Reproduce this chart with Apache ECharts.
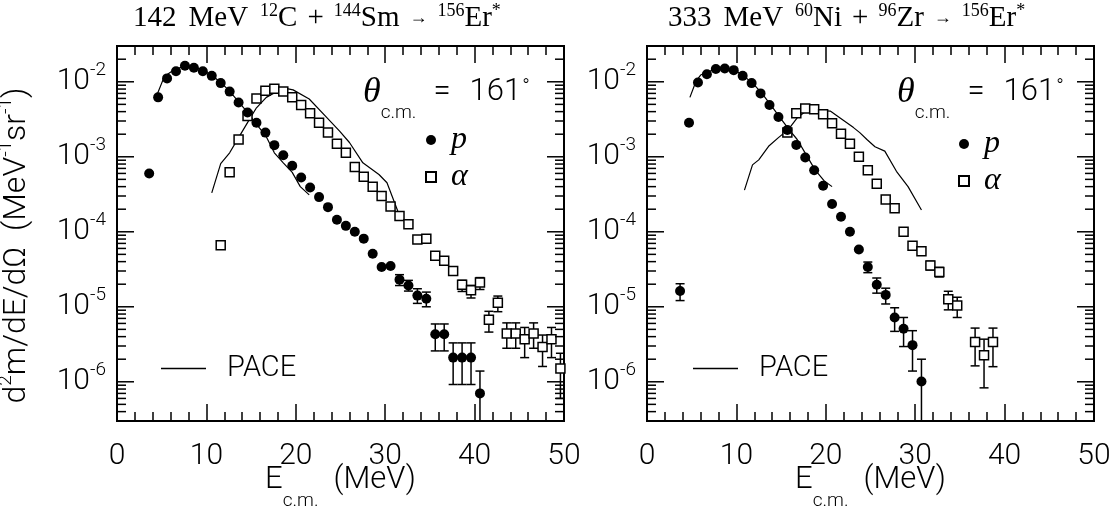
<!DOCTYPE html>
<html><head><meta charset="utf-8">
<script src="https://cdn.jsdelivr.net/npm/echarts@6/dist/echarts.min.js"></script>
<style>html,body{margin:0;padding:0;background:#fff}#c{width:1116px;height:512px}</style>
</head><body><div id="c"></div>
<script>
// ---------- data ----------
const xTickLabels = [0, 10, 20, 30, 40, 50];
const yDecades = [-7, -6, -5, -4, -3, -2];
const yMantissas = [1, 2, 3, 4, 5, 6, 7, 8, 9];

// left panel: 142 MeV 12C + 144Sm
const leftP_E = [3.6,4.6,5.6,6.6,7.6,8.6,9.6,10.6,11.6,12.6,13.6,14.6,15.6,16.6,17.6,18.6,19.6,20.6,21.6,22.6,23.6,24.6,25.6,26.6,27.6,28.6,29.6,30.6,31.6,32.6,33.6,34.6,35.6,36.6,37.6,38.6,39.6,40.6];
const leftP_V = [6.0e-4,6.2e-3,1.11e-2,1.38e-2,1.64e-2,1.54e-2,1.38e-2,1.2e-2,9.6e-3,7.4e-3,5.3e-3,3.9e-3,2.85e-3,2.1e-3,1.43e-3,1.05e-3,7.6e-4,5.3e-4,3.9e-4,2.9e-4,2.13e-4,1.45e-4,1.2e-4,1.0e-4,8.1e-5,5.1e-5,3.4e-5,3.5e-5,2.3e-5,1.92e-5,1.41e-5,1.28e-5,4.3e-6,4.3e-6,2.1e-6,2.1e-6,2.1e-6,7.0e-7];
const leftP_err = [[31.6,1.92e-5,2.68e-5],[32.6,1.62e-5,2.25e-5],[33.6,1.11e-5,1.74e-5],[34.6,1.0e-5,1.57e-5],[35.6,2.58e-6,5.9e-6],[36.6,2.58e-6,5.9e-6],[37.6,9.2e-7,3.3e-6],[38.6,9.2e-7,3.3e-6],[39.6,9.2e-7,3.3e-6],[40.6,1e-8,1.39e-6]];

const leftA_E = [11.6,12.6,13.6,14.6,15.6,16.6,17.6,18.6,19.6,20.6,21.6,22.6,23.6,24.6,25.6,26.6,27.6,28.6,29.6,30.6,31.6,32.6,33.6,34.6,35.6,36.6,37.6,38.6,39.6,40.6,41.6,42.6,43.6,44.6,45.6,46.6,47.6,48.6,49.6];
const leftA_V = [6.6e-5,6.2e-4,1.7e-3,3.5e-3,6.0e-3,7.6e-3,8.1e-3,7.4e-3,6.2e-3,4.9e-3,3.8e-3,2.85e-3,2.1e-3,1.49e-3,1.13e-3,7.3e-4,5.4e-4,4.0e-4,3.0e-4,2.17e-4,1.62e-4,1.26e-4,7.9e-5,8.1e-5,4.8e-5,4.1e-5,3.0e-5,1.97e-5,1.66e-5,2.1e-5,6.7e-6,1.13e-5,4.4e-6,4.4e-6,3.7e-6,4.4e-6,2.9e-6,3.7e-6,1.5e-6];
const leftA_err = [[38.6,1.6e-5,2.25e-5],[39.6,1.31e-5,1.93e-5],[40.6,1.7e-5,2.45e-5],[41.6,4.6e-6,8.7e-6],[42.6,8.6e-6,1.39e-5],[43.6,2.8e-6,6.1e-6],[44.6,2.8e-6,6.1e-6],[45.6,2.1e-6,5.3e-6],[46.6,2.8e-6,6.1e-6],[47.6,1.6e-6,4.2e-6],[48.6,2.1e-6,5.3e-6],[49.6,6e-7,2.4e-6]];

const leftPacePE = [4.5,5.3,6.3,7.5,8.6,9.6,10.6,11.6,12.6,13.6,14.6,15.6,16.6,17.6,18.6,19.6,20.5,21.5];
const leftPacePV = [6.8e-3,1.18e-2,1.42e-2,1.62e-2,1.6e-2,1.42e-2,1.22e-2,9.8e-3,7.5e-3,5.4e-3,3.9e-3,2.7e-3,1.95e-3,1.13e-3,8.3e-4,6.2e-4,4.0e-4,3.1e-4];
const leftPaceAE = [10.6,11.6,12.6,13.6,14.6,15.6,16.7,17.8,19.0,19.7,21.5,23.5,24.9,26.0,27.5,29.3,30.2,31.5];
const leftPaceAV = [3.3e-4,8.1e-4,1.13e-3,1.8e-3,2.85e-3,4.5e-3,6.2e-3,7.3e-3,8.1e-3,7.8e-3,5.9e-3,3.3e-3,2.2e-3,1.55e-3,8.3e-4,5.8e-4,4.5e-4,1.77e-4];

// right panel: 333 MeV 60Ni + 96Zr
const rightP_E = [3.7,4.7,5.7,6.7,7.7,8.7,9.7,10.7,11.7,12.7,13.7,14.7,15.7,16.7,17.7,18.7,19.7,20.7,21.7,22.7,23.7,24.7,25.7,26.7,27.7,28.7,29.7,30.7];
const rightP_V = [1.62e-5,2.85e-3,9.8e-3,1.26e-2,1.48e-2,1.5e-2,1.43e-2,1.2e-2,9.6e-3,7.0e-3,4.9e-3,3.4e-3,2.27e-3,1.44e-3,9.8e-4,6.6e-4,4.1e-4,2.35e-4,1.59e-4,1.0e-4,5.8e-5,3.4e-5,1.97e-5,1.44e-5,7.2e-6,5.1e-6,3.08e-6,1.01e-6];
const rightP_err = [[3.7,1.21e-5,2.03e-5],[24.7,2.85e-5,3.95e-5],[25.7,1.52e-5,2.42e-5],[26.7,1.09e-5,1.77e-5],[27.7,4.7e-6,9.7e-6],[28.7,2.95e-6,7.2e-6],[29.7,1.39e-6,4.8e-6],[30.7,1e-8,2.0e-6]];

const rightA_E = [15.7,16.7,17.7,18.7,19.7,20.7,21.7,22.7,23.7,24.7,25.7,26.7,27.7,28.7,29.7,30.7,31.7,32.7,33.7,34.7,36.7,37.7,38.7];
const rightA_V = [2.1e-3,3.8e-3,4.4e-3,4.3e-3,3.7e-3,2.8e-3,2.03e-3,1.49e-3,1.0e-3,6.6e-4,4.36e-4,2.7e-4,2.06e-4,1.0e-4,6.5e-5,5.5e-5,3.55e-5,2.9e-5,1.26e-5,1.04e-5,3.4e-6,2.26e-6,3.4e-6];
const rightA_err = [[31.7,3.1e-5,4.05e-5],[32.7,2.5e-5,3.35e-5],[33.7,9.1e-6,1.61e-5],[34.7,7.2e-6,1.34e-5],[36.7,1.63e-6,5.2e-6],[37.7,8.3e-7,3.7e-6],[38.7,1.59e-6,5.2e-6]];

const rightPacePE = [4.8,5.5,6.0,6.7,7.9,9.8,10.8,11.9,12.9,13.9,14.9,15.9,16.8,17.8,18.8,19.8,20.7];
const rightPacePV = [6.2e-3,1.03e-2,1.23e-2,1.35e-2,1.5e-2,1.45e-2,1.2e-2,9.4e-3,6.9e-3,4.8e-3,3.3e-3,2.3e-3,1.7e-3,1.07e-3,6.7e-4,4.8e-4,4.0e-4];
const rightPaceAE = [10.9,11.8,12.5,13.6,14.7,15.8,16.8,17.8,19.0,20.5,21.6,23.1,23.8,24.6,25.5,26.6,27.9,29.2,30.7];
const rightPaceAV = [3.6e-4,7.8e-4,9.1e-4,1.38e-3,1.8e-3,2.3e-3,3.3e-3,4.07e-3,4.2e-3,4.07e-3,3.3e-3,2.45e-3,2.1e-3,1.7e-3,1.36e-3,1.19e-3,6.4e-4,4.0e-4,1.95e-4];

// ---------- build ----------
const SANS = 'Roboto';
const SERIF = 'Liberation Serif';
const Y_MIN = 3e-7, Y_MAX = 3e-2;
const zip = (a, b) => a.map((v, i) => [v, b[i]]);

const yTicks = [];
yDecades.forEach(e => yMantissas.forEach(m => {
  const v = m * Math.pow(10, e);
  if (v >= Y_MIN * 0.999 && v <= Y_MAX * 1.001) yTicks.push([0, v, m === 1 ? 1 : 0]);
}));

function tickRender(params, api) {
  const v = api.value(1), major = api.value(2);
  const pL = api.coord([0, v]), pR = api.coord([50, v]);
  const len = major ? 17 : 9;
  return {type: 'group', children: [
    {type: 'line', shape: {x1: pL[0], y1: pL[1], x2: pL[0] + len, y2: pL[1]}, style: {stroke: '#000', lineWidth: 1.5}},
    {type: 'line', shape: {x1: pR[0], y1: pR[1], x2: pR[0] - len, y2: pR[1]}, style: {stroke: '#000', lineWidth: 1.5}}
  ]};
}
function errRender(params, api) {
  const x = api.value(0), lo = api.value(1), hi = api.value(2);
  const a = api.coord([x, lo]), b = api.coord([x, hi]);
  const c = 4.5;
  return {type: 'group', children: [
    {type: 'line', shape: {x1: a[0], y1: a[1], x2: b[0], y2: b[1]}, style: {stroke: '#000', lineWidth: 1.5}},
    {type: 'line', shape: {x1: b[0] - c, y1: b[1], x2: b[0] + c, y2: b[1]}, style: {stroke: '#000', lineWidth: 1.5}},
    {type: 'line', shape: {x1: a[0] - c, y1: a[1], x2: a[0] + c, y2: a[1]}, style: {stroke: '#000', lineWidth: 1.5}}
  ]};
}

const grids = [
  {left: 117, top: 46, width: 447, height: 375, show: true, borderColor: '#000', borderWidth: 2, backgroundColor: 'transparent', outerBoundsMode: 'none', containLabel: false},
  {left: 647, top: 46, width: 447, height: 375, show: true, borderColor: '#000', borderWidth: 2, backgroundColor: 'transparent', outerBoundsMode: 'none', containLabel: false}
];

function xAx(gi, pos, withLabels, withName) {
  return {
    type: 'value', gridIndex: gi, position: pos, min: xTickLabels[0], max: xTickLabels[xTickLabels.length - 1], interval: 10,
    axisLine: {show: false}, splitLine: {show: false},
    axisTick: {show: true, inside: true, length: 17, lineStyle: {color: '#000', width: 1.5}},
    minorTick: {show: true, splitNumber: 5, length: 9, lineStyle: {color: '#000', width: 1.5}},
    axisLabel: {show: withLabels, margin: 20, color: '#000', fontFamily: SANS, fontWeight: 300, fontSize: 30},
    name: withName ? '{e|E}{sub|c.m.}{e|  (MeV)}' : '',
    nameLocation: 'middle', nameGap: 28, nameMoveOverlap: false,
    nameTextStyle: {color: '#000', rich: {
      e: {fontFamily: SANS, fontWeight: 300, fontSize: 31, lineHeight: 62, color: '#000'},
      sub: {fontFamily: SANS, fontWeight: 300, fontSize: 19, lineHeight: 19, verticalAlign: 'bottom', color: '#000'}
    }}
  };
}
function yAx(gi, withName) {
  return {
    type: 'log', logBase: 10, gridIndex: gi, min: Y_MIN, max: Y_MAX,
    axisLine: {show: false}, axisTick: {show: false}, splitLine: {show: false},
    axisLabel: {
      margin: 11,
      formatter: v => { const e = Math.log10(v), r = Math.round(e); return Math.abs(e - r) > 1e-6 ? '' : '{b|10}{s|' + r + '}'; },
      rich: {
        b: {fontFamily: SANS, fontWeight: 300, fontSize: 30, lineHeight: 42, color: '#000'},
        s: {fontFamily: SANS, fontWeight: 300, fontSize: 19, lineHeight: 19, verticalAlign: 'top', color: '#000'}
      }
    },
    name: withName ? '{b|d}{s|2}{b|m/dE/dΩ  (MeV}{s|-1}{b|sr}{s|-1}{b|)}' : '',
    nameLocation: 'middle', nameRotate: 90, nameGap: 80, nameMoveOverlap: false,
    nameTextStyle: {color: '#000', padding: [0, 24, 0, 0], rich: {
      b: {fontFamily: SANS, fontWeight: 300, fontSize: 32, lineHeight: 40, color: '#000'},
      s: {fontFamily: SANS, fontWeight: 300, fontSize: 19, lineHeight: 19, verticalAlign: 'top', color: '#000'}
    }}
  };
}

function panelSeries(xi, yi, pE, pV, pErr, aE, aV, aErr, ppE, ppV, paE, paV) {
  return [
    {type: 'custom', xAxisIndex: xi, yAxisIndex: yi, data: yTicks, renderItem: tickRender, clip: false, silent: true, z: 5},
    {name: 'PACE', type: 'line', xAxisIndex: xi, yAxisIndex: yi, data: zip(ppE, ppV), symbol: 'none', lineStyle: {color: '#000', width: 1.2}, itemStyle: {color: '#000'}, z: 2},
    {name: 'PACE', type: 'line', xAxisIndex: xi, yAxisIndex: yi, data: zip(paE, paV), symbol: 'none', lineStyle: {color: '#000', width: 1.2}, itemStyle: {color: '#000'}, z: 2},
    {type: 'custom', xAxisIndex: xi, yAxisIndex: yi, data: aErr, encode: {x: 0, y: [1, 2]}, renderItem: errRender, clip: true, z: 3},
    {type: 'custom', xAxisIndex: xi, yAxisIndex: yi, data: pErr, encode: {x: 0, y: [1, 2]}, renderItem: errRender, clip: true, z: 3},
    {name: 'α', type: 'scatter', xAxisIndex: xi, yAxisIndex: yi, data: zip(aE, aV), symbol: 'rect', symbolSize: 9, itemStyle: {color: '#fff', borderColor: '#000', borderWidth: 1.5, opacity: 1}, z: 4},
    {name: 'p', type: 'scatter', xAxisIndex: xi, yAxisIndex: yi, data: zip(pE, pV), symbol: 'circle', symbolSize: 10, itemStyle: {color: '#000', opacity: 1}, z: 4}
  ];
}

function thetaTitle(left) {
  return {
    text: '{th|θ}{sub|c.m.}{g1|}{b|=}{g2|}{b|161}{deg|°}', left: left, top: 62, padding: 0,
    textStyle: {fontWeight: 'normal', rich: {
      th: {fontFamily: SERIF, fontStyle: 'italic', fontWeight: 'normal', fontSize: 36, lineHeight: 61, color: '#000'},
      sub: {fontFamily: SANS, fontWeight: 300, fontSize: 19, lineHeight: 19, verticalAlign: 'bottom', color: '#000'},
      g1: {width: 17}, g2: {width: 19},
      b: {fontFamily: SANS, fontWeight: 300, fontSize: 31, lineHeight: 61, color: '#000'},
      deg: {fontFamily: SANS, fontWeight: 300, fontSize: 20, lineHeight: 20, verticalAlign: 'top', padding: [16, 0, 0, 1], color: '#000'}
    }}
  };
}
const titleRich = {
  b: {fontFamily: SERIF, fontWeight: 'normal', fontSize: 29, lineHeight: 32, color: '#000'},
  s: {fontFamily: SERIF, fontWeight: 'normal', fontSize: 18, lineHeight: 18, verticalAlign: 'top', color: '#000'},
  a: {fontFamily: SERIF, fontWeight: 'normal', fontSize: 18, lineHeight: 18, color: '#000'},
  g: {width: 12}, h: {width: 10}
};

function pLegend(left, top) {
  return {data: ['p', 'α'], orient: 'vertical', left: left, top: top, padding: 0, itemGap: 5, itemWidth: 10, itemHeight: 10, selectedMode: false,
    textStyle: {fontFamily: SERIF, fontStyle: 'italic', fontSize: 32, lineHeight: 30, color: '#000', padding: [0, 0, 0, 10]}};
}
function paceLegend(left, top) {
  return {data: [{name: 'PACE', icon: 'rect', itemStyle: {color: '#000', opacity: 1}}], left: left, top: top, padding: 0, itemWidth: 45, itemHeight: 1.3, selectedMode: false,
    textStyle: {fontFamily: SANS, fontWeight: 300, fontSize: 29, color: '#000', padding: [0, 0, 0, 16]}};
}

const option = {
  animation: false,
  backgroundColor: '#fff',
  title: [
    {text: '{b|142}{g|}{b|MeV}{g|}{s|12}{b|C}{h|}{b|+}{h|}{s|144}{b|Sm}{h|}{a|→}{h|}{s|156}{b|Er}{s|*}', left: 133, top: 2, padding: 0, textStyle: {fontWeight: 'normal', rich: titleRich}},
    {text: '{b|333}{g|}{b|MeV}{g|}{s|60}{b|Ni}{h|}{b|+}{h|}{s|96}{b|Zr}{h|}{a|→}{h|}{s|156}{b|Er}{s|*}', left: 668, top: 2, padding: 0, textStyle: {fontWeight: 'normal', rich: titleRich}},
    thetaTitle(363),
    thetaTitle(897)
  ],
  legend: [pLegend(425, 124), pLegend(958, 128), paceLegend(161, 354), paceLegend(693, 354)],
  grid: grids,
  xAxis: [xAx(0, 'bottom', true, true), xAx(0, 'top', false, false), xAx(1, 'bottom', true, true), xAx(1, 'top', false, false)],
  yAxis: [yAx(0, true), yAx(1, false)],
  series: [
    ...panelSeries(0, 0, leftP_E, leftP_V, leftP_err, leftA_E, leftA_V, leftA_err, leftPacePE, leftPacePV, leftPaceAE, leftPaceAV),
    ...panelSeries(2, 1, rightP_E, rightP_V, rightP_err, rightA_E, rightA_V, rightA_err, rightPacePE, rightPacePV, rightPaceAE, rightPaceAV)
  ]
};
const chart = echarts.init(document.getElementById('c'), null, {renderer: 'canvas'});
chart.setOption(option);
</script></body></html>
